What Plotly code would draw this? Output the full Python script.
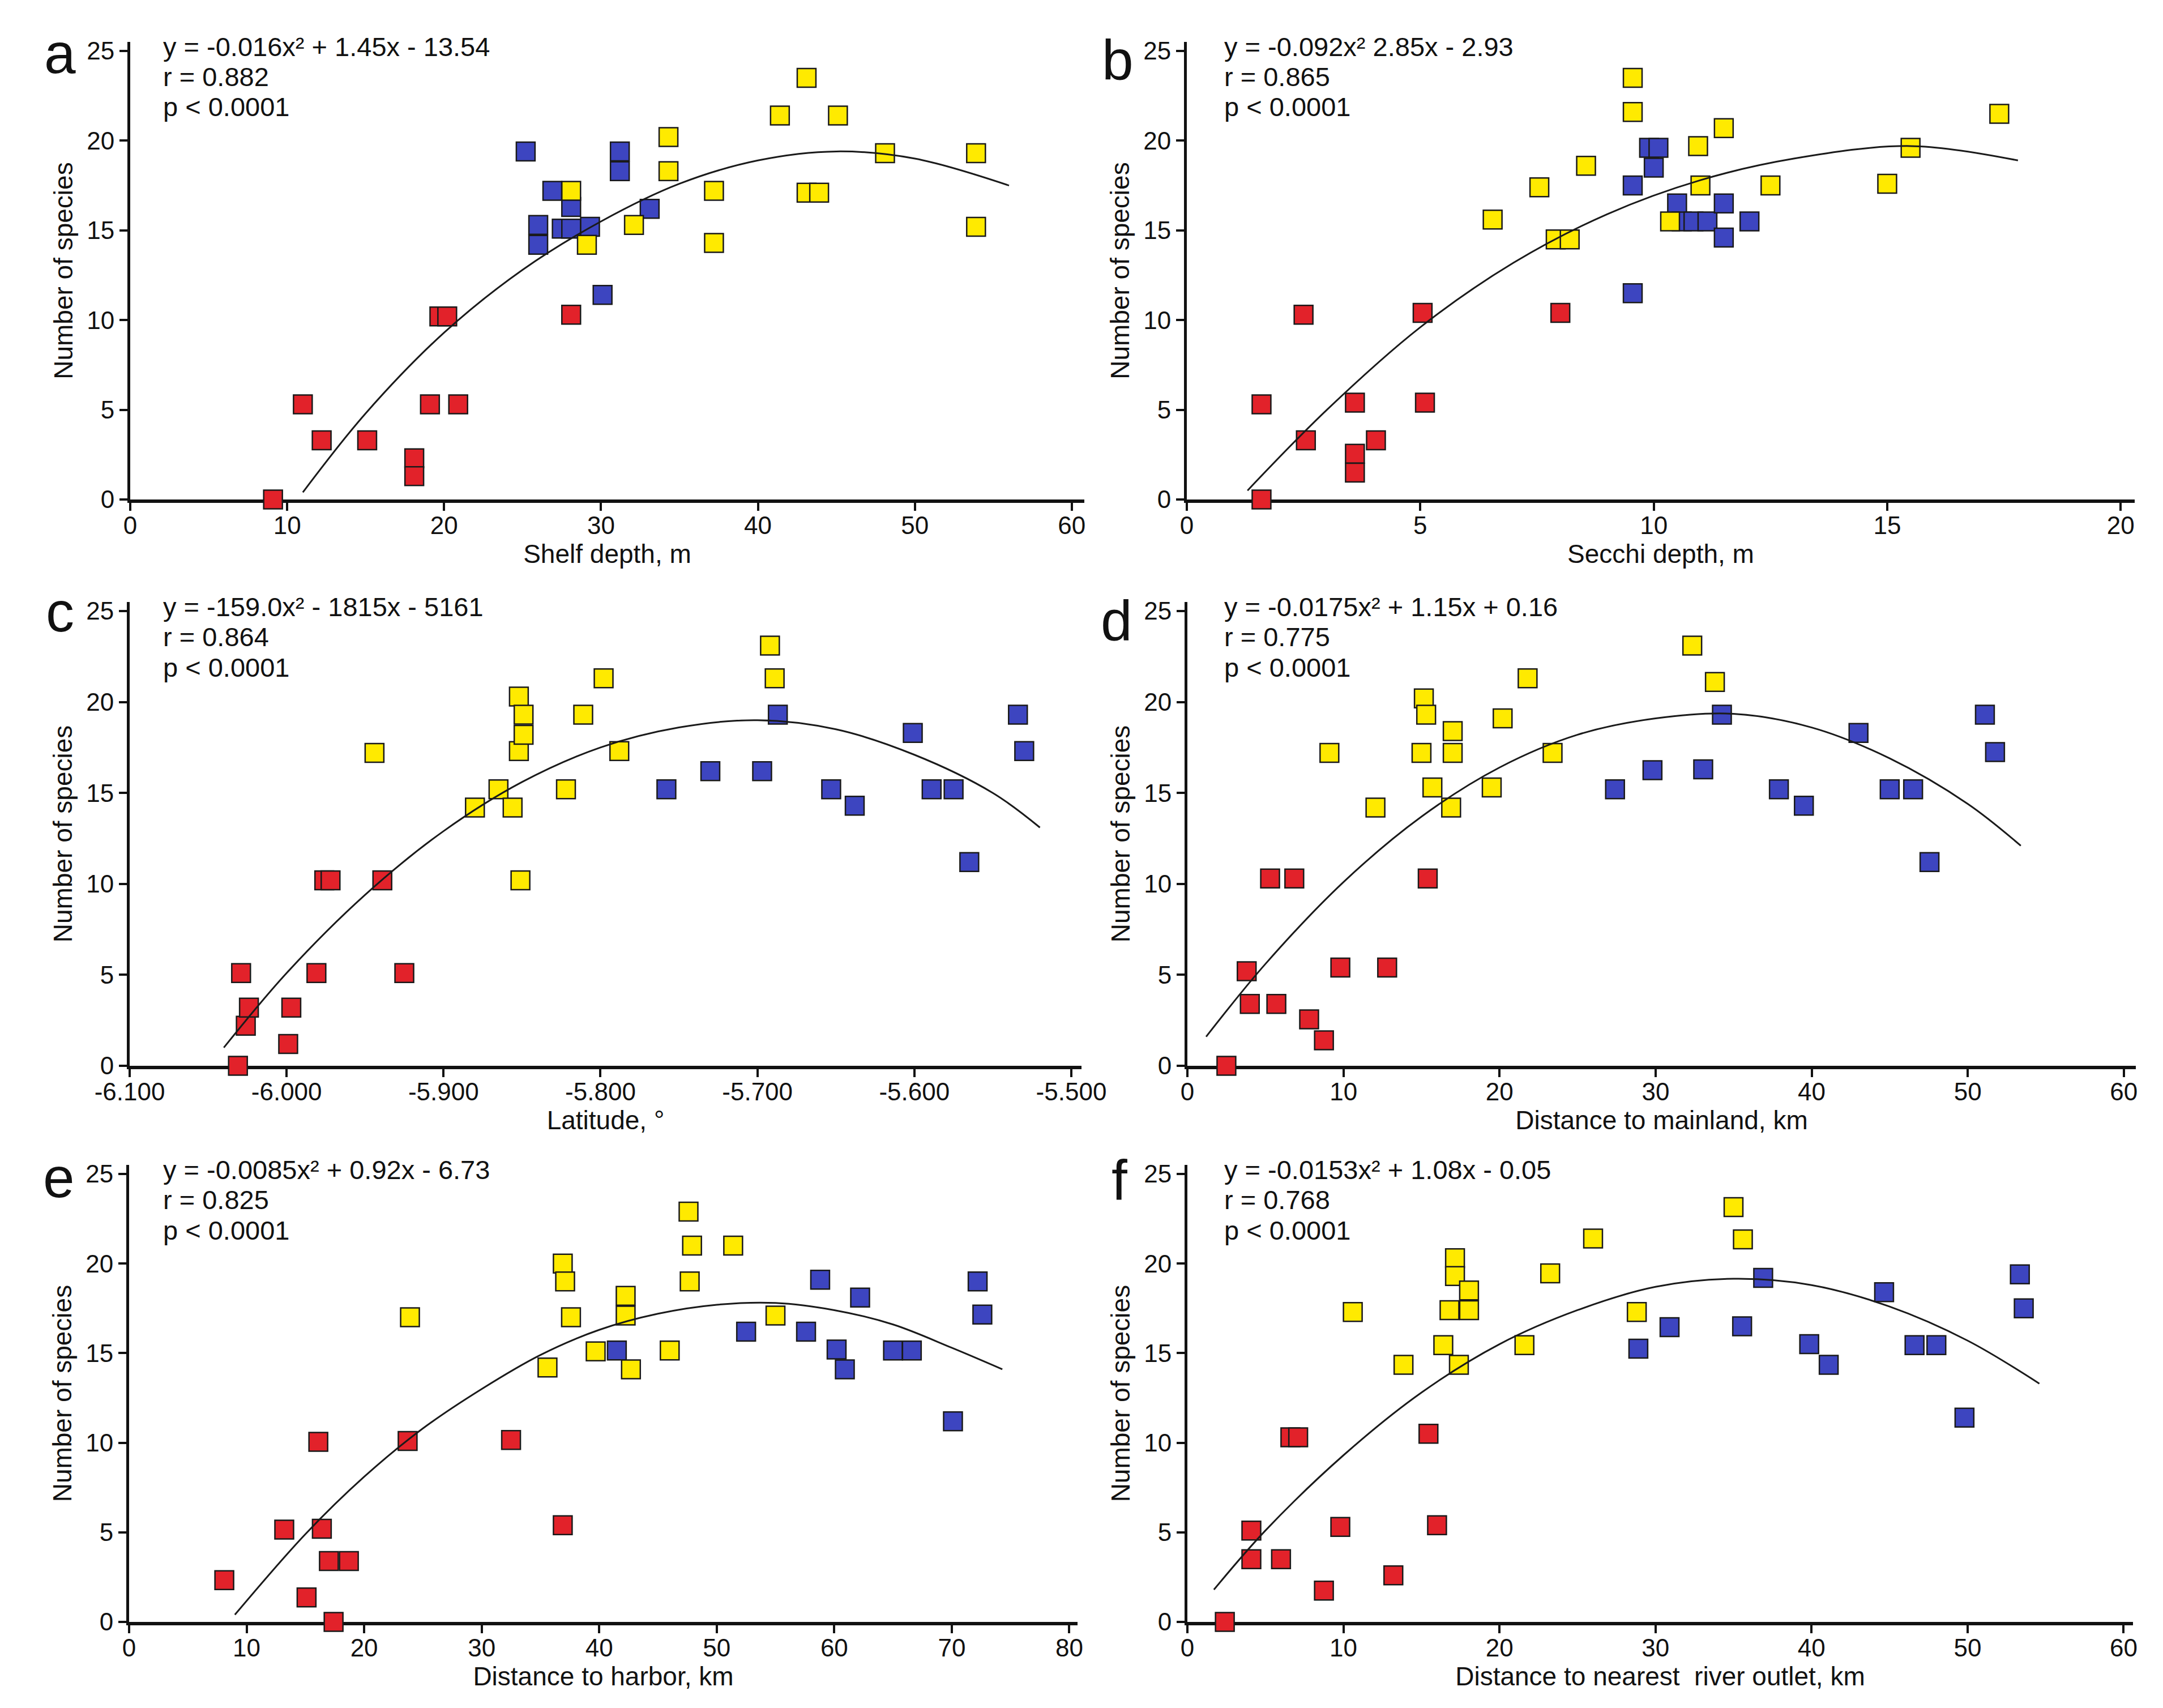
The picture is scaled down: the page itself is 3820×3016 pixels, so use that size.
import plotly.graph_objects as go

W, H = 3820, 3016
FONT = "Liberation Sans, Arial, sans-serif"

# ---------------- data ----------------
# a: shelf depth (m)
a_red_x = [9.1, 11.0, 12.2, 15.1, 18.1, 18.1, 19.1, 19.7, 20.2, 20.9, 28.1]
a_red_y = [0.0, 5.3, 3.3, 3.3, 2.3, 1.3, 5.3, 10.2, 10.2, 5.3, 10.3]
a_blue_x = [25.2, 26.0, 26.0, 26.9, 27.5, 28.1, 28.1, 29.3, 30.1, 31.2, 31.2, 33.1]
a_blue_y = [19.4, 15.3, 14.2, 17.2, 15.1, 16.3, 15.1, 15.2, 11.4, 19.4, 18.3, 16.2]
a_yel_x = [28.1, 29.1, 32.1, 34.3, 34.3, 37.2, 37.2, 41.4, 43.1, 43.1, 43.9, 45.1, 48.1, 53.9, 53.9]
a_yel_y = [17.2, 14.2, 15.3, 20.2, 18.3, 17.2, 14.3, 21.4, 23.5, 17.1, 17.1, 21.4, 19.3, 19.3, 15.2]
a_fit_x = [11, 15, 20, 25, 30, 35, 40, 45, 50, 56]
a_fit_y = [0.4, 4.8, 9.3, 12.8, 15.5, 17.6, 18.9, 19.4, 19.0, 17.5]

# b: Secchi depth (m)
b_red_x = [1.6, 1.6, 2.5, 2.55, 3.6, 3.6, 3.6, 4.05, 5.05, 5.1, 8.0]
b_red_y = [0.0, 5.3, 10.3, 3.3, 5.4, 2.55, 1.5, 3.3, 10.4, 5.4, 10.4]
b_blue_x = [9.55, 9.55, 9.9, 10.1, 10.0, 10.5, 10.6, 10.85, 11.15, 11.5, 11.5, 12.05]
b_blue_y = [17.5, 11.5, 19.6, 19.6, 18.5, 16.5, 15.5, 15.5, 15.5, 16.5, 14.6, 15.5]
b_yel_x = [6.55, 7.55, 7.9, 8.2, 8.55, 9.55, 9.55, 10.35, 10.95, 11.0, 11.5, 12.5, 15.0, 15.5, 17.4]
b_yel_y = [15.6, 17.4, 14.5, 14.5, 18.6, 23.5, 21.6, 15.5, 19.7, 17.5, 20.7, 17.5, 17.6, 19.6, 21.5]
b_fit_x = [1.3, 3, 5, 7, 9, 11, 13, 15.5, 17.8]
b_fit_y = [0.5, 5.0, 9.6, 13.2, 15.9, 17.8, 19.0, 19.7, 18.9]

# c: latitude (deg)
c_red_x = [-6.031, -6.029, -6.026, -6.024, -5.999, -5.997, -5.981, -5.976, -5.972, -5.939, -5.925]
c_red_y = [0.0, 5.1, 2.2, 3.2, 1.2, 3.2, 5.1, 10.2, 10.2, 10.2, 5.1]
c_blue_x = [-5.758, -5.730, -5.697, -5.687, -5.653, -5.638, -5.601, -5.589, -5.575, -5.565, -5.534, -5.530]
c_blue_y = [15.2, 16.2, 16.2, 19.3, 15.2, 14.3, 18.3, 15.2, 15.2, 11.2, 19.3, 17.3]
c_yel_x = [-5.944, -5.880, -5.865, -5.856, -5.852, -5.852, -5.849, -5.849, -5.851, -5.822, -5.811, -5.798, -5.788, -5.692, -5.689]
c_yel_y = [17.2, 14.2, 15.2, 14.2, 20.3, 17.3, 19.3, 18.2, 10.2, 15.2, 19.3, 21.3, 17.3, 23.1, 21.3]
c_fit_x = [-6.04, -6.0, -5.95, -5.9, -5.85, -5.8, -5.75, -5.7, -5.65, -5.6, -5.55, -5.52]
c_fit_y = [1.0, 5.1, 9.4, 12.9, 15.6, 17.5, 18.6, 19.0, 18.5, 17.1, 15.0, 13.1]
c_tick_vals = [-6.1, -6.0, -5.9, -5.8, -5.7, -5.6, -5.5]
c_tick_text = ["-6.100", "-6.000", "-5.900", "-5.800", "-5.700", "-5.600", "-5.500"]

# d: distance to mainland (km)
d_red_x = [2.5, 3.8, 4.0, 5.7, 5.3, 6.85, 7.8, 8.75, 9.8, 12.8, 15.4]
d_red_y = [0.0, 5.2, 3.4, 3.4, 10.3, 10.3, 2.55, 1.4, 5.4, 5.4, 10.3]
d_blue_x = [27.4, 29.8, 33.05, 34.25, 37.9, 39.5, 43.0, 45.0, 46.5, 47.55, 51.1, 51.75]
d_blue_y = [15.2, 16.25, 16.3, 19.3, 15.2, 14.3, 18.3, 15.2, 15.2, 11.2, 19.3, 17.25]
d_yel_x = [9.1, 12.05, 15.0, 15.15, 15.3, 15.7, 17.0, 17.0, 16.9, 19.5, 20.2, 21.8, 23.4, 32.35, 33.8]
d_yel_y = [17.2, 14.2, 17.2, 20.2, 19.3, 15.3, 18.4, 17.2, 14.2, 15.3, 19.1, 21.3, 17.2, 23.1, 21.1]
d_fit_x = [1.2, 5, 10, 15, 20, 25, 30, 35, 40, 45, 50, 53.4]
d_fit_y = [1.6, 5.6, 10.1, 13.7, 16.4, 18.2, 19.1, 19.35, 18.6, 16.9, 14.4, 12.1]

# e: distance to harbor (km)
e_red_x = [8.1, 13.2, 15.1, 16.1, 16.4, 17.0, 18.7, 17.4, 23.7, 32.5, 36.9]
e_red_y = [2.33, 5.15, 1.37, 10.05, 5.2, 3.4, 3.4, 0.0, 10.1, 10.15, 5.4]
e_blue_x = [41.5, 52.5, 57.6, 58.8, 60.2, 60.9, 62.2, 65.0, 66.6, 70.1, 72.2, 72.6]
e_blue_y = [15.15, 16.2, 16.2, 19.1, 15.2, 14.1, 18.1, 15.15, 15.15, 11.2, 19.0, 17.15]
e_yel_x = [23.9, 35.6, 36.9, 37.1, 37.6, 39.7, 42.25, 42.25, 42.7, 46.0, 47.6, 47.9, 47.7, 51.4, 55.0]
e_yel_y = [17.0, 14.2, 20.0, 19.0, 17.0, 15.1, 18.2, 17.1, 14.1, 15.15, 22.9, 21.0, 19.0, 21.0, 17.1]
e_fit_x = [9, 15, 20, 25, 30, 35, 40, 45, 50, 55, 60, 65, 70, 74.3]
e_fit_y = [0.4, 4.9, 8.1, 10.8, 13.0, 14.9, 16.3, 17.2, 17.7, 17.8, 17.4, 16.6, 15.3, 14.1]

# f: distance to nearest river outlet (km)
f_red_x = [2.4, 4.1, 4.1, 6.0, 6.6, 7.1, 8.75, 9.8, 13.2, 15.45, 16.0]
f_red_y = [0.0, 5.1, 3.5, 3.5, 10.3, 10.3, 1.75, 5.3, 2.6, 10.5, 5.4]
f_blue_x = [28.9, 30.9, 35.55, 36.9, 39.85, 41.1, 44.65, 46.6, 48.0, 49.8, 53.35, 53.6]
f_blue_y = [15.25, 16.45, 16.5, 19.2, 15.5, 14.35, 18.4, 15.45, 15.45, 11.4, 19.4, 17.5]
f_yel_x = [10.6, 13.85, 16.4, 16.8, 17.15, 17.15, 17.4, 18.05, 18.05, 21.6, 23.25, 26.0, 28.8, 35.0, 35.6]
f_yel_y = [17.3, 14.35, 15.45, 17.4, 20.3, 19.3, 14.35, 18.5, 17.4, 15.45, 19.45, 21.4, 17.3, 23.15, 21.35]
f_fit_x = [1.7, 5, 10, 15, 20, 25, 30, 35, 40, 45, 50, 54.6]
f_fit_y = [1.8, 5.1, 9.3, 12.8, 15.5, 17.4, 18.7, 19.15, 18.8, 17.6, 15.7, 13.3]

y_tick_vals = [0, 5, 10, 15, 20, 25]

eq_text = {
    "a": ["y = -0.016x\u00b2 + 1.45x - 13.54", "r = 0.882", "p < 0.0001"],
    "b": ["y = -0.092x\u00b2 2.85x - 2.93", "r = 0.865", "p < 0.0001"],
    "c": ["y = -159.0x\u00b2 - 1815x - 5161", "r = 0.864", "p < 0.0001"],
    "d": ["y = -0.0175x\u00b2 + 1.15x + 0.16", "r = 0.775", "p < 0.0001"],
    "e": ["y = -0.0085x\u00b2 + 0.92x - 6.73", "r = 0.825", "p < 0.0001"],
    "f": ["y = -0.0153x\u00b2 + 1.08x - 0.05", "r = 0.768", "p < 0.0001"],
}
x_titles = {
    "a": "Shelf depth, m",
    "b": "Secchi depth, m",
    "c": "Latitude, \u00b0",
    "d": "Distance to mainland, km",
    "e": "Distance to harbor, km",
    "f": "Distance to nearest  river outlet, km",
}
y_title = "Number of species"

RED, BLUE, YELLOW = "#E2222A", "#3D45C0", "#FFEA00"

# ---------------- layout geometry (pixels) ----------------
panels = {
    "a": dict(x0=222, x1=1907, xr=[0, 60.8], row=0, data=(a_red_x, a_red_y, a_blue_x, a_blue_y, a_yel_x, a_yel_y, a_fit_x, a_fit_y), xt=[0, 10, 20, 30, 40, 50, 60]),
    "b": dict(x0=2088, x1=3762, xr=[0, 20.3], row=0, data=(b_red_x, b_red_y, b_blue_x, b_blue_y, b_yel_x, b_yel_y, b_fit_x, b_fit_y), xt=[0, 5, 10, 15, 20]),
    "c": dict(x0=221, x1=1902, xr=[-6.1, -5.4935], row=1, data=(c_red_x, c_red_y, c_blue_x, c_blue_y, c_yel_x, c_yel_y, c_fit_x, c_fit_y), xt=c_tick_vals),
    "d": dict(x0=2089, x1=3764, xr=[0, 60.77], row=1, data=(d_red_x, d_red_y, d_blue_x, d_blue_y, d_yel_x, d_yel_y, d_fit_x, d_fit_y), xt=[0, 10, 20, 30, 40, 50, 60]),
    "e": dict(x0=220, x1=1895, xr=[0, 80.7], row=2, data=(e_red_x, e_red_y, e_blue_x, e_blue_y, e_yel_x, e_yel_y, e_fit_x, e_fit_y), xt=[0, 10, 20, 30, 40, 50, 60, 70, 80]),
    "f": dict(x0=2089, x1=3759, xr=[0, 60.6], row=2, data=(f_red_x, f_red_y, f_blue_x, f_blue_y, f_yel_x, f_yel_y, f_fit_x, f_fit_y), xt=[0, 10, 20, 30, 40, 50, 60]),
}
rows = [(874, 31.68), (1874, 32.12), (2856, 31.64)]
Y_TOP = 25.5
letter_pos = {"a": (98, 86), "b": (1966, 98), "c": (98, 1072), "d": (1964, 1088), "e": (96, 2071), "f": (1969, 2076)}

fig = go.Figure()
layout = dict(width=W, height=H, margin=dict(l=0, r=0, t=0, b=0, autoexpand=False),
              paper_bgcolor="white", plot_bgcolor="white", showlegend=False,
              font=dict(family=FONT, color="#111111"))
annotations = []

for i, (key, p) in enumerate(panels.items()):
    n = "" if i == 0 else str(i + 1)
    xa, ya = "x" + n, "y" + n
    y0px, ppu = rows[p["row"]]
    ytop_px = y0px - Y_TOP * ppu
    xdom = [p["x0"] / W, p["x1"] / W]
    ydom = [1 - y0px / H, 1 - ytop_px / H]
    rx, ry, bx, by, yx, yy, fx, fy = p["data"]
    mk = dict(symbol="square", size=33, line=dict(color="#1a1a1a", width=2.5))
    for xs, ys, col in [(rx, ry, RED), (bx, by, BLUE), (yx, yy, YELLOW)]:
        fig.add_trace(go.Scatter(x=xs, y=ys, mode="markers", xaxis=xa, yaxis=ya,
                                 marker=dict(color=col, **mk), cliponaxis=False, hoverinfo="skip"))
    fig.add_trace(go.Scatter(x=fx, y=fy, mode="lines", xaxis=xa, yaxis=ya,
                             line=dict(color="#1a1a1a", width=3, shape="spline"),
                             cliponaxis=False, hoverinfo="skip"))
    xaxis = dict(domain=xdom, range=p["xr"], anchor=ya, showline=True, linewidth=6, linecolor="#111",
                 ticks="outside", ticklen=14, tickwidth=4, tickcolor="#111", automargin=False,
                 ticklabelstandoff=-12,
                 tickvals=p["xt"], showgrid=False, zeroline=False, layer="below traces",
                 tickfont=dict(size=44, family=FONT, color="#111"),
                 title=dict(text=x_titles[key], font=dict(size=46, family=FONT, color="#111"), standoff=0))
    if key == "c":
        xaxis["ticktext"] = c_tick_text
    yaxis = dict(domain=ydom, range=[0, Y_TOP], anchor=xa, showline=True, linewidth=5, linecolor="#111",
                 ticks="outside", ticklen=14, tickwidth=4, tickcolor="#111", automargin=False,
                 tickvals=y_tick_vals, showgrid=False, zeroline=False, layer="below traces",
                 tickfont=dict(size=44, family=FONT, color="#111"),
                 title=dict(text=y_title, font=dict(size=46, family=FONT, color="#111"), standoff=12))
    layout["xaxis" + n] = xaxis
    layout["yaxis" + n] = yaxis

    lx, ly = letter_pos[key]
    annotations.append(dict(text=key, x=lx / W, y=1 - ly / H, xref="paper", yref="paper",
                            xanchor="center", yanchor="middle", showarrow=False,
                            font=dict(size=100, family=FONT, color="#111")))
    y25px = y0px - 25 * ppu
    tx = 278 if p["x0"] < 1000 else 2152
    for j, line in enumerate(eq_text[key]):
        annotations.append(dict(text=line, x=tx / W, y=1 - (y25px - 8 + 53.5 * j) / H,
                                xref="paper", yref="paper", xanchor="left", yanchor="middle",
                                showarrow=False, font=dict(size=47, family=FONT, color="#111")))

layout["annotations"] = annotations
fig.update_layout(**layout)
fig.write_html("out.html")
